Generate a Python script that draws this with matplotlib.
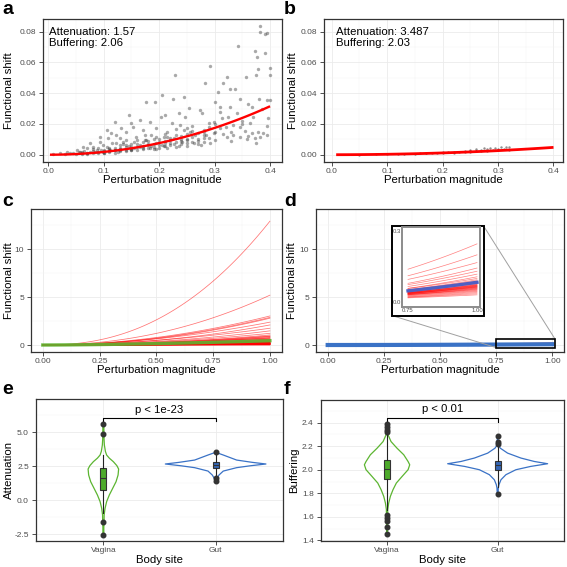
import numpy as np
import matplotlib.pyplot as plt
from matplotlib.patches import Rectangle
from matplotlib.ticker import MultipleLocator

plt.rcParams['font.family'] = ['Liberation Sans', 'DejaVu Sans']

# ---- data ------------------------------------------------------------------
# panel a: vagina sample, perturbation magnitude vs functional shift
a_x = [0.382, 0.381, 0.390, 0.394, 0.343, 0.373, 0.377, 0.390, 0.400, 0.292, 0.378, 0.374,
       0.229, 0.357, 0.322, 0.399, 0.282, 0.315, 0.328, 0.337, 0.307, 0.205, 0.345, 0.380,
       0.225, 0.245, 0.300, 0.394, 0.399, 0.192, 0.176, 0.367, 0.310, 0.328, 0.273, 0.254,
       0.145, 0.120, 0.203, 0.211, 0.235, 0.247, 0.277, 0.313, 0.298, 0.397, 0.346, 0.364,
       0.378, 0.388, 0.394, 0.334, 0.322, 0.358, 0.373, 0.280, 0.292, 0.262, 0.241, 0.226,
       0.214, 0.195, 0.171, 0.153, 0.132, 0.114, 0.105, 0.093, 0.159, 0.177, 0.195, 0.141,
       0.123, 0.099, 0.081, 0.069, 0.051, 0.033, 0.129, 0.165, 0.208, 0.226, 0.250, 0.265,
       0.298, 0.310, 0.334, 0.367, 0.382, 0.280, 0.250, 0.238, 0.223, 0.183, 0.165, 0.150,
       0.141, 0.123, 0.093, 0.075, 0.063, 0.057, 0.021, 0.009, 0.111, 0.150, 0.183, 0.195,
       0.129, 0.108, 0.087, 0.099, 0.186, 0.208,
       0.030, 0.040, 0.045, 0.050, 0.055, 0.060, 0.065, 0.070, 0.075, 0.080, 0.085, 0.090,
       0.095, 0.100, 0.105, 0.110, 0.115, 0.120, 0.125, 0.130, 0.135, 0.140, 0.145, 0.150,
       0.155, 0.160, 0.165, 0.170, 0.175, 0.180, 0.185, 0.190, 0.200, 0.205, 0.210, 0.215,
       0.220, 0.230, 0.235, 0.240, 0.250, 0.255, 0.260, 0.270, 0.275, 0.285, 0.290, 0.300,
       0.310, 0.315, 0.325, 0.330, 0.340, 0.345, 0.350, 0.355, 0.360, 0.370, 0.375, 0.385,
       0.395, 0.100, 0.110, 0.120, 0.130, 0.140, 0.150, 0.160, 0.170, 0.180, 0.190, 0.200,
       0.210, 0.220, 0.230, 0.240, 0.250, 0.260, 0.270, 0.280,
       0.060, 0.060, 0.070, 0.070, 0.080, 0.080, 0.090, 0.090, 0.100, 0.100, 0.110, 0.110,
       0.120, 0.120, 0.130, 0.130, 0.140, 0.140, 0.150, 0.150, 0.160, 0.160, 0.170, 0.170,
       0.180, 0.180, 0.190, 0.190, 0.200, 0.200, 0.210, 0.210, 0.220, 0.220, 0.230, 0.230,
       0.240, 0.240, 0.250, 0.250, 0.260, 0.260, 0.270, 0.270, 0.280, 0.280, 0.290, 0.290,
       0.300, 0.300, 0.320, 0.330, 0.350, 0.360, 0.135, 0.155, 0.175, 0.195, 0.215, 0.245]
a_y = [0.0839, 0.0800, 0.0785, 0.0794, 0.0707, 0.0674, 0.0637, 0.0659, 0.0561, 0.0577, 0.0555, 0.0518,
       0.0516, 0.0503, 0.0507, 0.0516, 0.0468, 0.0468, 0.0427, 0.0425, 0.0410, 0.0388, 0.0364, 0.0364,
       0.0362, 0.0375, 0.0345, 0.0353, 0.0356, 0.0340, 0.0340, 0.0308, 0.0308, 0.0308, 0.0293, 0.0301,
       0.0258, 0.0215, 0.0243, 0.0256, 0.0269, 0.0243, 0.0269, 0.0236, 0.0215, 0.0236, 0.0182, 0.0204,
       0.0150, 0.0139, 0.0128, 0.0128, 0.0117, 0.0100, 0.0106, 0.0085, 0.0074, 0.0078, 0.0085, 0.0106,
       0.0150, 0.0171, 0.0160, 0.0182, 0.0171, 0.0139, 0.0160, 0.0117, 0.0117, 0.0095, 0.0074, 0.0095,
       0.0074, 0.0063, 0.0052, 0.0041, 0.0030, 0.0020, 0.0041, 0.0052, 0.0056, 0.0069, 0.0100, 0.0128,
       0.0139, 0.0171, 0.0193, 0.0139, 0.0113, 0.0150, 0.0171, 0.0193, 0.0204, 0.0215, 0.0225, 0.0204,
       0.0150, 0.0128, 0.0085, 0.0074, 0.0052, 0.0020, 0.0009, 0.0004, 0.0030, 0.0030, 0.0041, 0.0035,
       0.0106, 0.0106, 0.0030, 0.0020, 0.0128, 0.0117,
       0.0005, 0.0008, 0.0012, 0.0006, 0.0015, 0.0010, 0.0025, 0.0012, 0.0020, 0.0035, 0.0015, 0.0045,
       0.0030, 0.0022, 0.0050, 0.0035, 0.0075, 0.0042, 0.0020, 0.0060, 0.0085, 0.0032, 0.0055, 0.0072,
       0.0045, 0.0095, 0.0062, 0.0035, 0.0125, 0.0070, 0.0055, 0.0105, 0.0085, 0.0060, 0.0135, 0.0045,
       0.0095, 0.0165, 0.0055, 0.0120, 0.0075, 0.0145, 0.0185, 0.0105, 0.0062, 0.0125, 0.0205, 0.0095,
       0.0280, 0.0135, 0.0245, 0.0088, 0.0270, 0.0115, 0.0220, 0.0155, 0.0330, 0.0245, 0.0075, 0.0300,
       0.0185, 0.0012, 0.0018, 0.0028, 0.0022, 0.0048, 0.0038, 0.0028, 0.0058, 0.0045, 0.0038, 0.0042,
       0.0078, 0.0062, 0.0048, 0.0090, 0.0058, 0.0082, 0.0072, 0.0110,
       0.0006, 0.0018, 0.0009, 0.0004, 0.0013, 0.0024, 0.0008, 0.0020, 0.0030, 0.0008, 0.0026, 0.0041,
       0.0033, 0.0012, 0.0040, 0.0029, 0.0025, 0.0062, 0.0050, 0.0028, 0.0052, 0.0070, 0.0080, 0.0045,
       0.0060, 0.0090, 0.0072, 0.0050, 0.0100, 0.0065, 0.0092, 0.0055, 0.0110, 0.0078, 0.0085, 0.0130,
       0.0105, 0.0070, 0.0135, 0.0095, 0.0115, 0.0155, 0.0140, 0.0090, 0.0160, 0.0130, 0.0110, 0.0180,
       0.0150, 0.0200, 0.0180, 0.0150, 0.0200, 0.0120, 0.0068, 0.0082, 0.0098, 0.0118, 0.0112, 0.0160]
a_att, a_buf = 1.57, 2.06

# panel b: gut sample
b_x = [0.05, 0.08, 0.10, 0.12, 0.13, 0.15, 0.16, 0.17, 0.18, 0.19, 0.20, 0.21, 0.22, 0.23,
       0.24, 0.25, 0.25, 0.26, 0.27, 0.27, 0.28, 0.28, 0.29, 0.30, 0.30, 0.31, 0.32, 0.22,
       0.24, 0.26, 0.20, 0.17, 0.275, 0.285, 0.295, 0.305, 0.315, 0.320, 0.26, 0.25]
b_y = [0.0001, 0.0002, 0.0003, 0.0004, 0.0006, 0.0007, 0.0008, 0.0010, 0.0009, 0.0012, 0.0013,
       0.0015, 0.0014, 0.0017, 0.0019, 0.0018, 0.0022, 0.0021, 0.0024, 0.0032, 0.0026, 0.0034,
       0.0033, 0.0035, 0.0028, 0.0036, 0.0030, 0.0019, 0.0025, 0.0027, 0.0016, 0.0012, 0.0043,
       0.0045, 0.0046, 0.0047, 0.0049, 0.0050, 0.0035, 0.0030]
b_att, b_buf = 3.487, 2.03

# per-sample attenuation / buffering fits
vag_att = [-2.56, -1.65, -1.11, -1.06, -1.03, -0.87, -0.74, -0.56, -0.39, -0.20, -0.05, 0.05,
           0.15, 0.25, 0.35, 0.45, 0.55, 0.62, 0.70, 0.78, 0.85, 0.92, 1.00, 1.08, 1.15, 1.22,
           1.30, 1.38, 1.45, 1.52, 1.60, 1.66, 1.72, 1.80, 1.88, 1.95, 2.02, 2.10, 2.18, 2.25,
           2.32, 2.40, 2.50, 2.60, 2.75, 2.90, 3.10, 3.30, 4.85, 5.59,
           0.10, 0.30, 0.50, 0.66, 0.82, 0.96, 1.12, 1.26, 1.42, 1.56, 1.70, 1.84, 2.00, 2.20]
vag_buf = [2.30, 2.10, 1.95, 2.00, 2.05, 1.90, 2.10, 1.85, 2.00, 1.95, 2.05, 1.90,
           2.10, 2.00, 1.85, 2.05, 1.95, 2.00, 2.15, 1.90, 2.05, 2.00, 1.80, 2.10, 1.95, 2.05,
           2.00, 1.90, 2.20, 2.00, 1.95, 2.10, 1.85, 2.00, 2.05, 1.95, 2.15, 2.00, 1.90, 2.05,
           2.10, 1.95, 2.00, 2.20, 1.85, 2.00, 2.05, 2.30, 1.60, 1.50,
           2.00, 1.90, 2.10, 1.95, 2.05, 2.00, 1.90, 2.10, 2.00, 1.95, 2.05, 2.00, 1.90, 2.10]
vag_mean = (0.80, 1.60)
gut_att = [1.41, 1.62, 1.80, 1.95, 2.05, 2.15, 2.25, 2.32, 2.38, 2.43, 2.48, 2.52, 2.56, 2.59,
           2.62, 2.64, 2.66, 2.68, 2.70, 2.72, 2.74, 2.76, 2.78, 2.80, 2.83, 2.86, 2.89, 2.93,
           2.97, 3.02, 3.08, 3.15, 3.25, 3.38, 3.53]
gut_buf = [2.00, 2.05, 1.95, 2.10, 2.00, 2.05, 2.15, 1.95, 2.05, 2.00, 2.10, 2.05, 1.90, 2.00,
           2.05, 2.10, 2.00, 1.95, 2.05, 2.00, 2.10, 2.05, 2.00, 1.95, 2.05, 2.00, 2.10, 2.05,
           1.80, 2.00, 2.05, 2.22, 2.29, 2.05, 2.00]
gut_mean = (2.50, 2.00)

# violin outlines (value, half width) and box stats
e_vag_y = [5.59, 4.50, 4.07, 3.60, 3.33, 3.10, 2.84, 2.55, 2.30, 1.86, 1.37, 0.88, 0.39, -0.10,
           -0.59, -1.08, -1.60, -2.00, -2.55]
e_vag_w = [0.004, 0.006, 0.009, 0.018, 0.029, 0.053, 0.089, 0.120, 0.136, 0.131, 0.113, 0.083,
           0.053, 0.029, 0.015, 0.007, 0.006, 0.004, 0.004]
e_gut_y = [3.53, 3.33, 2.96, 2.79, 2.67, 2.54, 2.40, 2.15, 1.86, 1.62, 1.42]
e_gut_w = [0.0, 0.068, 0.187, 0.327, 0.448, 0.310, 0.187, 0.068, 0.030, 0.012, 0.008]
f_vag_y = [2.386, 2.352, 2.296, 2.239, 2.183, 2.127, 2.070, 2.042, 2.000, 1.943, 1.887, 1.831,
           1.774, 1.718, 1.662, 1.550, 1.451]
f_vag_w = [0.004, 0.006, 0.009, 0.036, 0.090, 0.151, 0.190, 0.205, 0.190, 0.136, 0.084, 0.054,
           0.030, 0.015, 0.006, 0.005, 0.004]
f_gut_y = [2.287, 2.211, 2.183, 2.141, 2.099, 2.070, 2.051, 2.028, 2.000, 1.958, 1.915, 1.873,
           1.845, 1.797]
f_gut_w = [0.003, 0.004, 0.024, 0.090, 0.211, 0.332, 0.452, 0.298, 0.165, 0.075, 0.030, 0.012,
           0.006, 0.004]

e_box = [dict(med=1.62, q1=0.76, q3=2.40, whislo=-0.96, whishi=3.33, fliers=[5.59, 4.85, -1.57, -2.55]),
         dict(med=2.60, q1=2.35, q3=2.84, whislo=1.70, whishi=3.45, fliers=[3.53, 1.62, 1.45])]
f_box = [dict(med=2.008, q1=1.921, q3=2.085, whislo=1.66, whishi=2.30,
              fliers=[2.386, 2.363, 2.338, 2.318, 1.614, 1.592, 1.569, 1.512, 1.451]),
         dict(med=2.036, q1=2.000, q3=2.076, whislo=1.85, whishi=2.21,
              fliers=[2.287, 2.239, 2.217, 1.797])]
sites = ["Vagina", "Gut"]

RED, GREEN, BLUE = "#FF0000", "#5CB531", "#3A72C6"
GREEN_BOX, BLUE_BOX = "#4DAA2B", "#3566B5"
EDGE, TICKC = "#333333", "#4D4D4D"
FS_LAB, FS_TICK = 8.2, 6.0

W = H = 567
fig = plt.figure(figsize=(5.67, 5.67), dpi=100)


def panel(l, r, t, b, xlab, ylab, letter, ylab_x, xlab_y, letter_xy):
    ax = fig.add_axes([l / W, 1 - b / H, (r - l) / W, (b - t) / H])
    for s in ax.spines.values():
        s.set_color(EDGE)
        s.set_linewidth(0.9)
    ax.tick_params(which="major", length=2.8, width=0.6, color=EDGE, labelsize=FS_TICK,
                   labelcolor=TICKC)
    ax.tick_params(axis="x", pad=1.5)
    ax.tick_params(axis="y", pad=2.3)
    ax.tick_params(which="minor", length=0)
    ax.set_axisbelow(True)
    fig.text((l + r) / 2 / W, 1 - xlab_y / H, xlab, ha="center", va="center", fontsize=FS_LAB)
    fig.text(ylab_x / W, 1 - (t + b) / 2 / H, ylab, ha="center", va="center",
             rotation=90, fontsize=FS_LAB)
    fig.text(letter_xy[0] / W, 1 - letter_xy[1] / H, letter, fontsize=14,
             fontweight="bold", va="baseline", ha="left")
    return ax


def grids(ax, minor_x=True):
    ax.grid(True, which="major", color="#EBEBEB", lw=0.6)
    ax.grid(True, which="minor", axis="y", color="#F3F3F3", lw=0.35)
    if minor_x:
        ax.grid(True, which="minor", axis="x", color="#F3F3F3", lw=0.35)


def curve(ax, att, buf, x, **kw):
    ax.plot(x, np.exp(-att) * x ** buf, **kw)


# ---- a / b -------------------------------------------------------------------
for (l, r, xmin, px, py, att, buf, letter, ylx, lx, txt_x, x0, ms, alpha, lw, c) in [
        (43.3, 281.7, -0.009, a_x, a_y, a_att, a_buf, "a", 9, 2, 0.002, 0.003, 6, 0.4, 1.7, "#2A2A2A"),
        (324.3, 562.7, -0.0134, b_x, b_y, b_att, b_buf, "b", 293, 284, 0.008, 0.008, 3, 0.5, 2.0, "#222222")]:
    ax = panel(l, r, 19.3, 162.3, "Perturbation magnitude", "Functional shift", letter,
               ylx, 180, (lx, 14))
    ax.set_xlim(xmin, xmin + 0.43)
    ax.set_ylim(-0.00494, 0.08807)
    ax.xaxis.set_minor_locator(MultipleLocator(0.05))
    ax.yaxis.set_minor_locator(MultipleLocator(0.01))
    ax.set_xticks([0, 0.1, 0.2, 0.3, 0.4], ["0.0", "0.1", "0.2", "0.3", "0.4"])
    ax.set_yticks([0, 0.02, 0.04, 0.06, 0.08], ["0.00", "0.02", "0.04", "0.06", "0.08"])
    grids(ax)
    ax.scatter(px, py, s=ms, color=c, alpha=alpha, lw=0)
    xs = np.linspace(x0, 0.4, 100)
    curve(ax, att, buf, xs, color=RED, lw=lw, solid_capstyle="butt")
    ax.text(txt_x, 0.0800, f"Attenuation: {att}", fontsize=FS_LAB, va="center", ha="left")
    ax.text(txt_x, 0.0725, f"Buffering: {buf}", fontsize=FS_LAB, va="center", ha="left")

# ---- c / d -------------------------------------------------------------------
xs = np.linspace(0, 1, 121)
axes_cd = []
for (l, r, letter, ylx, lx) in [(31, 281.7, "c", 9, 2), (316, 564, "d", 292, 284)]:
    ax = panel(l, r, 209.3, 351.7, "Perturbation magnitude", "Functional shift", letter,
               ylx, 370, (lx, 206))
    ax.set_xlim(-0.052, 1.052)
    ax.set_ylim(-0.70, 14.18)
    ax.set_xticks([0, 0.25, 0.5, 0.75, 1.0], ["0.00", "0.25", "0.50", "0.75", "1.00"])
    ax.xaxis.set_minor_locator(MultipleLocator(0.125))
    ax.set_yticks([0, 5, 10], ["0", "5", "10"])
    ax.yaxis.set_minor_locator(MultipleLocator(2.5))
    grids(ax)
    axes_cd.append(ax)

ax_c, ax_d = axes_cd
for att, buf in zip(vag_att, vag_buf):
    curve(ax_c, att, buf, xs, color=RED, lw=0.55, alpha=0.55)
curve(ax_c, vag_mean[0], vag_mean[1], xs, color=GREEN, lw=2.4, alpha=0.9)

for att, buf in zip(gut_att, gut_buf):
    curve(ax_d, att, buf, xs, color=RED, lw=0.5, alpha=0.45)
curve(ax_d, gut_mean[0], gut_mean[1], xs, color=BLUE, lw=3.0)

# zoom box, connectors and inset
ax_d.add_patch(Rectangle((0.751, -0.28), 0.262, 0.87, fill=False, ec="black", lw=1.2,
                         zorder=4, clip_on=False))
ax_d.plot([0.695, 1.013], [12.4, 0.59], color="#A0A0A0", lw=0.7, zorder=3)
ax_d.plot([0.287, 0.751], [3.07, -0.28], color="#A0A0A0", lw=0.7, zorder=3)
ax_d.add_patch(Rectangle((0.287, 3.07), 0.408, 9.33, fc="white", ec="black", lw=1.4, zorder=5))
ax_in = ax_d.inset_axes([0.333, 4.02, 0.344, 8.33], transform=ax_d.transData, zorder=6)
xs_in = np.linspace(0.75, 1.0, 30)
for att, buf in zip(gut_att, gut_buf):
    curve(ax_in, att, buf, xs_in, color=RED, lw=0.5, alpha=0.5)
curve(ax_in, gut_mean[0], gut_mean[1], xs_in, color="#4F5FC2", lw=2.4)
ax_in.set_xlim(0.73, 1.01)
ax_in.set_ylim(-0.02, 0.316)
ax_in.set_xticks([0.75, 1.0], ["0.75", "1.00"])
ax_in.set_yticks([0.0, 0.3], ["0.0", "0.3"])
ax_in.tick_params(length=0, labelsize=4.3, labelcolor=TICKC, pad=0.8)
for s in ax_in.spines.values():
    s.set_color("#8C8C8C")
    s.set_linewidth(1.4)

# ---- e / f -------------------------------------------------------------------
for (l, r, t, ylim, ylab, letter, ylx, lx, vio, boxes, yt, ytl, ymin_step, brk, ptxt) in [
        (36, 283, 399, (-2.993, 7.45), "Attenuation", "e", 9, 2,
         [(e_vag_y, e_vag_w, GREEN), (e_gut_y, e_gut_w, BLUE)], e_box,
         [-2.5, 0, 2.5, 5.0], ["-2.5", "0.0", "2.5", "5.0"], 1.25, (5.83, 6.07, 6.64),
         "p < 1e-23"),
        (320.7, 564, 400, (1.395, 2.592), "Buffering", "f", 294, 284,
         [(f_vag_y, f_vag_w, GREEN), (f_gut_y, f_gut_w, BLUE)], f_box,
         [1.4, 1.6, 1.8, 2.0, 2.2, 2.4], ["1.4", "1.6", "1.8", "2.0", "2.2", "2.4"], 0.1,
         (2.408, 2.442, 2.516), "p < 0.01")]:
    ax = panel(l, r, t, 541, "Body site", ylab, letter, ylx, 560, (lx, 394))
    ax.set_xlim(0.4, 2.6)
    ax.set_ylim(*ylim)
    ax.set_yticks(yt, ytl)
    ax.yaxis.set_minor_locator(MultipleLocator(ymin_step))
    grids(ax, minor_x=False)
    for pos, (vy, vw, col) in zip([1, 2], vio):
        vy, vw = np.array(vy), np.array(vw)
        ax.plot(np.r_[pos - vw, (pos + vw)[::-1], pos - vw[0]],
                np.r_[vy, vy[::-1], vy[0]], color=col, lw=0.9, zorder=2)
    for pos, st, fc in zip([1, 2], boxes, [GREEN_BOX, BLUE_BOX]):
        ax.bxp([st], positions=[pos], widths=0.055, patch_artist=True, showcaps=False,
               boxprops=dict(facecolor=fc, edgecolor=EDGE, lw=0.8),
               medianprops=dict(color=EDGE, lw=0.8),
               whiskerprops=dict(color="#222222", lw=0.8),
               flierprops=dict(marker="o", mfc=EDGE, mec=EDGE, ms=3.3),
               manage_ticks=False, zorder=3)
    ax.plot([1, 1, 2, 2], [brk[0], brk[1], brk[1], brk[0]], color="black", lw=0.8)
    ax.text(1.5, brk[2], ptxt, ha="center", va="center", fontsize=FS_LAB)
    ax.set_xticks([1, 2], sites)

fig.savefig("out.png", dpi=100)
